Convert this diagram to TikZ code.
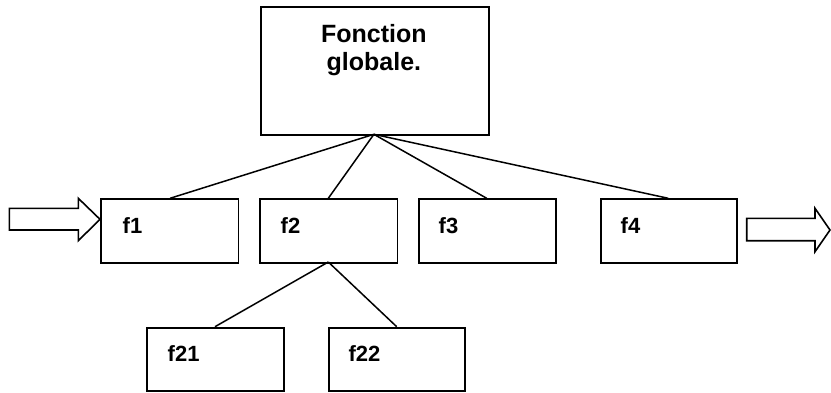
\documentclass[tikz,border=0pt]{standalone}
\usepackage{fontspec}
\setmainfont{Liberation Sans}
\begin{document}
\begin{tikzpicture}[x=1pt,y=-1pt,
  box/.style={draw=black, line width=1.8pt, fill=white, inner sep=0pt, anchor=north west},
  lbl/.style={font=\fontsize{22}{24}\selectfont\bfseries, anchor=base west, inner sep=0pt},
  ttl/.style={font=\fontsize{25}{26}\selectfont\bfseries, anchor=base, inner sep=0pt},
  conn/.style={draw=black, line width=1.5pt},
  bigarrow/.style={draw=black, line width=1.6pt, fill=white, line join=miter}]
\useasboundingbox (0,0) rectangle (831,392);
% top box
\node[box, minimum width=227.7pt, minimum height=128.3pt] (top) at (260,6) {};
\node[ttl] (t1) at (373.9,42.5) {Fonction};
\node[ttl] (t2) at (373.9,70) {globale.};
% level 1
\node[box, minimum width=137.5pt, minimum height=63.4pt] (f1) at (100,198.3) {};
\node[box, minimum width=137.2pt, minimum height=63.7pt] (f2) at (259.3,198.3) {};
\node[box, minimum width=136.7pt, minimum height=63.4pt] (f3) at (418.3,198.3) {};
\node[box, minimum width=136pt, minimum height=63.4pt] (f4) at (600,198.3) {};
% level 2
\node[box, minimum width=136.7pt, minimum height=63.3pt] (f21) at (146,326.7) {};
\node[box, minimum width=136pt, minimum height=63.3pt] (f22) at (328.3,326.7) {};
% labels
\node[lbl] (l1) at (122.5,233.3) {f1};
\node[lbl] (l2) at (280.5,233.3) {f2};
\node[lbl] (l3) at (438.5,233.3) {f3};
\node[lbl] (l4) at (620.5,233.3) {f4};
\node[lbl] (l21) at (167.5,361.7) {f21};
\node[lbl] (l22) at (348.3,361.7) {f22};
% connectors
\coordinate (apex) at (373.9,134.3);
\coordinate (apex2) at (328.3,262);
\draw[conn] (apex) -- (f1.north west -| 170,0);
\draw[conn] (apex) -- (f2.north west -| 328.3,0);
\draw[conn] (apex) -- (f3.north west -| 486.7,0);
\draw[conn] (apex) -- (f4.north west -| 668.3,0);
\draw[conn] (apex2) -- (f21.north west -| 215,0);
\draw[conn] (apex2) -- (f22.north west -| 396.7,0);
% hollow arrows
\draw[bigarrow] (9.3,208.3) -- (78.3,208.3) -- (78.3,198.3) -- (f1.west |- 0,219.3) -- (78.3,240.7) -- (78.3,230) -- (9.3,230) -- cycle;
\draw[bigarrow] (746.7,218.3) -- (815,218.3) -- (815,208.3) -- (830,230) -- (815,251.7) -- (815,240.7) -- (746.7,240.7) -- cycle;
\end{tikzpicture}
\end{document}
